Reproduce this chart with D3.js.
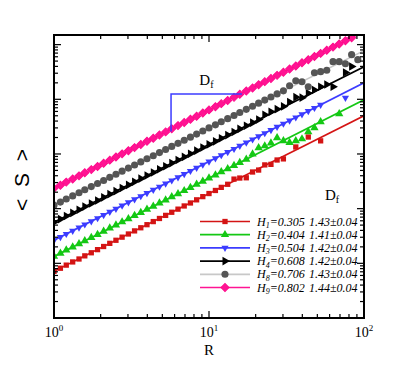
<!DOCTYPE html>
<html>
<head>
<meta charset="utf-8">
<script src="https://cdn.jsdelivr.net/npm/d3@7"></script>
<style>
body{margin:0;background:#fff}
text{font-family:"Liberation Serif","Times New Roman",serif}
</style>
</head>
<body>
<script>
// box size R, shared by every series
var R = [1.00,1.10,1.20,1.32,1.45,1.58,1.74,1.91,2.09,2.29,2.51,2.75,3.02,3.31,3.63,3.98,4.37,4.79,5.25,5.75,
         6.31,6.92,7.59,8.32,9.12,10.0,11.0,12.0,13.2,14.5,15.8,17.4,19.1,20.9,22.9,25.1,27.5,30.2,33.1,36.3,
         39.8,43.7,47.9,52.5,57.5,63.1,69.2,75.9,83.2,91.2]

// <S> for each Hurst exponent (null = no point)
var S_H1 = [7.13,8.13,9.27,10.6,12.0,13.7,15.6,17.8,20.3,23.2,26.4,30.1,34.4,39.2,44.7,50.9,58.0,66.1,75.3,85.9,
            97.9,112,127,145,166,189,215,245,279,347,363,367,468,508,631,646,776,813,null,1343,
            null,2042,null,1738,null,null,null,null,null,null]
var S_H2 = [13.4,15.3,17.5,19.9,22.7,25.9,29.6,33.7,38.5,44.0,50.1,57.1,65.2,74.4,84.9,96.8,110,126,144,164,
            187,213,243,278,317,361,412,470,537,612,698,796,1000,1300,1403,1585,1968,1734,1622,1734,
            1884,2535,3000,3864,null,null,5420,null,null,null]
var S_H3 = [26.4,30.2,34.4,39.4,44.9,51.3,58.6,66.8,76.4,87.1,99.5,114,130,148,169,193,221,252,288,328,
            375,429,489,558,637,728,832,948,1084,1236,1413,1614,1841,2104,2399,2742,3133,3573,4083,4656,
            5321,6081,6934,7925,null,null,null,10670,null,null]
var S_H4 = [56.5,64.4,73.5,83.7,95.5,109,124,141,161,184,209,239,272,310,354,404,459,524,597,681,
            776,885,1009,1151,1312,1496,1702,1941,2213,2523,2877,3281,3741,4266,5200,5900,6600,7413,8913,10960,
            10720,12880,14790,16980,18620,16980,null,30900,39810,null]
var S_H8 = [116,132,150,171,195,222,253,288,328,374,426,485,552,630,716,817,929,1059,1205,1374,
            1563,1782,2028,2312,2630,2999,3412,3890,4426,5047,5741,6546,7464,8492,9683,11020,12560,14290,17700,21830,
            20940,16940,30620,31990,34040,48750,48750,44770,65610,53090]
var S_H9 = [235,268,306,348,398,454,518,591,675,771,879,1005,1146,1309,1493,1706,1945,2217,2534,2890,
            3302,3766,4304,4908,5609,6396,7293,8334,9507,10860,12380,14150,16140,18450,21030,23980,27410,31260,35720,40730,
            46540,53070,60520,69160,78870,90130,102700,117500,134000,null]

var subs = ["1","2","3","4","8","9"]
var hurst = ["0.305","0.404","0.504","0.608","0.706","0.802"]
var dfs = ["1.43","1.41","1.42","1.42","1.43","1.44"]
var dfErr = "0.04"

// fitted power law lines, <S> at R=1 and R=100
var fitLo = [7.13,13.4,26.4,56.5,116,235]
var fitHi = [4980,9800,20100,39400,77600,175000]

// slope marker
var slopeR = [5.69,16.3]
var slopeS = [2566,12470]

var allS = [S_H1,S_H2,S_H3,S_H4,S_H8,S_H9]

var markColor = ["#d41414","#14c814","#3c3cff","#000000","#555555","#ff1493"]
var lineColor = ["#d41414","#14c814","#3c3cff","#000000","#c8c8c8","#ff1493"]
var shapes = [
  {type:d3.symbolSquare, size:28, rot:0},
  {type:d3.symbolTriangle, size:30, rot:0},
  {type:d3.symbolTriangle, size:22, rot:180},
  {type:d3.symbolTriangle, size:32, rot:90},
  {type:d3.symbolCircle, size:40, rot:0},
  {type:d3.symbolSquare, size:32, rot:45}
]

var screen = {width:415, height:370}
var box = {left:54, top:35, right:364, bottom:318}

var x = d3.scaleLog().domain([1,100]).range([box.left,box.right])
var y = d3.scaleLog().domain([1,1.5e5]).range([box.bottom,box.top])

var svg = d3.select("body").append("svg")
            .attr("width",screen.width)
            .attr("height",screen.height)

svg.append("clipPath").attr("id","plotclip")
   .append("rect")
   .attr("x",box.left).attr("y",box.top)
   .attr("width",box.right-box.left).attr("height",box.bottom-box.top)

var plot = svg.append("g").attr("clip-path","url(#plotclip)")

// fit lines
fitLo.forEach(function(lo,i){
  plot.append("line")
      .attr("x1",x(1)).attr("y1",y(lo))
      .attr("x2",x(100)).attr("y2",y(fitHi[i]))
      .attr("stroke",lineColor[i])
      .attr("stroke-width",1.7)
})

// markers
var sym = function(i){ return d3.symbol().type(shapes[i].type).size(shapes[i].size) }

allS.forEach(function(series,i){
  var pts = series.map(function(s,k){ return {r:R[k], s:s} })
                  .filter(function(d){ return d.s != null })
  plot.selectAll(".m"+i)
      .data(pts)
      .enter()
      .append("path")
      .attr("class","m"+i)
      .attr("d",sym(i)())
      .attr("transform",function(d){ return "translate("+x(d.r)+","+y(d.s)+") rotate("+shapes[i].rot+")" })
      .attr("fill",markColor[i])
      .attr("stroke", i==5 ? "#ff0a8c" : "none")
})

// slope triangle
svg.append("path")
   .attr("d","M"+x(slopeR[0])+","+y(slopeS[0])+"L"+x(slopeR[0])+","+y(slopeS[1])+"L"+x(slopeR[1])+","+y(slopeS[1]))
   .attr("fill","none")
   .attr("stroke","#3c3cff")
   .attr("stroke-width",1.5)

var dfLabel = svg.append("text")
   .attr("x",x(Math.sqrt(slopeR[0]*slopeR[1])))
   .attr("y",y(slopeS[1])-9)
   .attr("text-anchor","middle")
   .attr("font-size",15)
dfLabel.append("tspan").text("D")
dfLabel.append("tspan").attr("font-size",10).attr("dy",3).text("f")

// ticks on all four sides, inward
var tk = svg.append("g").attr("stroke","#000").attr("stroke-width",1.2)
var isMajor = function(v){ var l = Math.log10(v); return Math.abs(l-Math.round(l)) < 1e-6 }

x.ticks().forEach(function(v){
  var len = isMajor(v) ? 7 : 4
  tk.append("line").attr("x1",x(v)).attr("x2",x(v)).attr("y1",box.bottom).attr("y2",box.bottom-len)
  tk.append("line").attr("x1",x(v)).attr("x2",x(v)).attr("y1",box.top).attr("y2",box.top+len)
})
y.ticks().forEach(function(v){
  var len = isMajor(v) ? 7 : 4
  tk.append("line").attr("y1",y(v)).attr("y2",y(v)).attr("x1",box.left).attr("x2",box.left+len)
  tk.append("line").attr("y1",y(v)).attr("y2",y(v)).attr("x1",box.right).attr("x2",box.right-len)
})

svg.append("rect")
   .attr("x",box.left).attr("y",box.top)
   .attr("width",box.right-box.left).attr("height",box.bottom-box.top)
   .attr("fill","none").attr("stroke","#000").attr("stroke-width",2)

// x tick labels
;[1,10,100].forEach(function(v){
  var t = svg.append("text")
     .attr("x",x(v)).attr("y",box.bottom+19)
     .attr("text-anchor","middle")
     .attr("font-size",14)
  t.append("tspan").text("10")
  t.append("tspan").attr("font-size",9).attr("dy",-6).text(Math.round(Math.log10(v)))
})

svg.append("text")
   .attr("x",x(10)).attr("y",355)
   .attr("text-anchor","middle")
   .attr("font-size",15)
   .text("R")

svg.append("text")
   .attr("transform","translate(29,180) rotate(-90)")
   .attr("text-anchor","middle")
   .style("font-family","'Liberation Sans',Arial,sans-serif")
   .style("white-space","pre")
   .attr("font-size",21)
   .text("<  S  >")

// legend
var legend = svg.append("g").attr("class","legend")
var rowY = function(i){ return 221.5 + i*13.2 }

var hdr = legend.append("text").attr("x",325).attr("y",200).attr("font-size",15)
hdr.append("tspan").text("D")
hdr.append("tspan").attr("font-size",10).attr("dy",3).text("f")

subs.forEach(function(sub,i){
  legend.append("line")
        .attr("x1",200).attr("x2",250)
        .attr("y1",rowY(i)).attr("y2",rowY(i))
        .attr("stroke",lineColor[i]).attr("stroke-width",1.7)
  legend.append("path")
        .attr("d",sym(i)())
        .attr("transform","translate(225,"+rowY(i)+") rotate("+shapes[i].rot+")")
        .attr("fill",markColor[i])
        .attr("stroke", i==5 ? "#ff0a8c" : "none")
  var t = legend.append("text")
        .attr("x",257).attr("y",rowY(i)+4)
        .attr("font-size",12).attr("font-style","italic")
  t.append("tspan").text("H")
  t.append("tspan").attr("font-size",8).attr("dy",2.5).text(sub)
  t.append("tspan").attr("dy",-2.5).text("="+hurst[i])
  legend.append("text")
        .attr("x",309).attr("y",rowY(i)+4)
        .attr("font-size",12).attr("font-style","italic")
        .text(dfs[i]+"\u00b1"+dfErr)
})
</script>
</body>
</html>
